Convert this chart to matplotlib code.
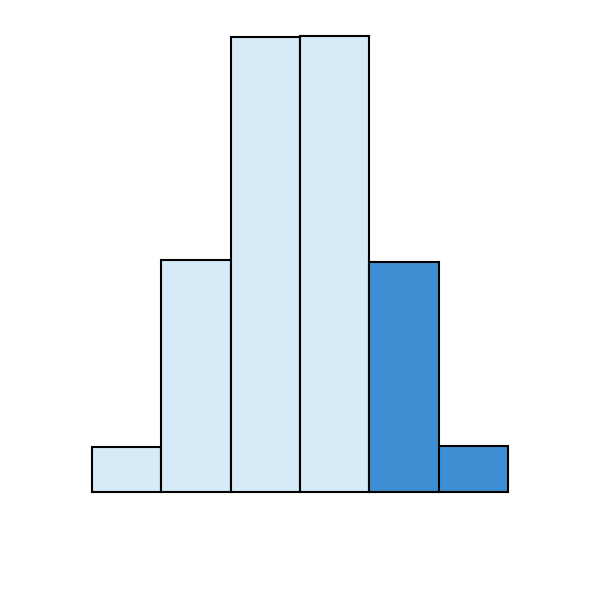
import matplotlib
matplotlib.use("Agg")
import matplotlib.pyplot as plt

bin_edges = [0, 1, 2, 3, 4, 5, 6]
counts = [45, 232, 455, 456, 230, 46]
colors = ["#D6EAF8", "#D6EAF8", "#D6EAF8", "#D6EAF8", "#3D8ED3", "#3D8ED3"]

fig = plt.figure(figsize=(6, 6), dpi=100)
ax = fig.add_axes([92/600, 108/600, 416/600, 456/600])
for i, c in enumerate(counts):
    ax.bar(bin_edges[i], c, width=bin_edges[i+1]-bin_edges[i], align="edge",
           color=colors[i], edgecolor="black", linewidth=1.5, clip_on=False)
ax.set_xlim(bin_edges[0], bin_edges[-1])
ax.set_ylim(0, max(counts))
ax.axis("off")
fig.savefig("out.png", dpi=100)
